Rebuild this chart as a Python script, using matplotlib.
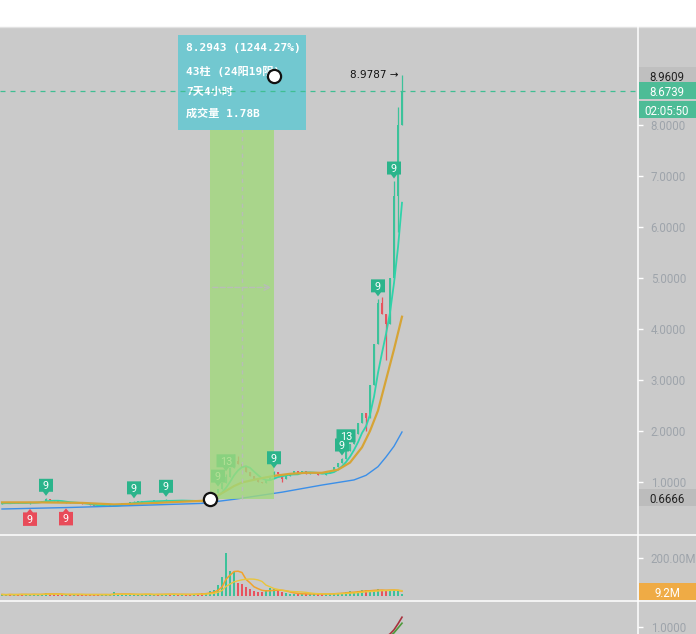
import numpy as np
import pandas as pd
import matplotlib
matplotlib.use("Agg")
import matplotlib.pyplot as plt
import matplotlib.patches as mpatches
import matplotlib.transforms as mtransforms
from matplotlib.lines import Line2D
from matplotlib.ticker import FuncFormatter

plt.rcParams['font.family'] = ['Roboto', 'DejaVu Sans']

# ---- data ----
close = [0.58, 0.59, 0.58, 0.60, 0.59, 0.58, 0.59, 0.60, 0.60, 0.61,
         0.63, 0.66, 0.64, 0.62, 0.61, 0.60, 0.60, 0.59, 0.59, 0.58,
         0.57, 0.56, 0.54, 0.53, 0.52, 0.52, 0.53, 0.53, 0.54, 0.56,
         0.58, 0.59, 0.60, 0.61, 0.61, 0.62, 0.62, 0.63, 0.63, 0.62,
         0.63, 0.64, 0.63, 0.64, 0.63, 0.64, 0.63, 0.62, 0.63, 0.62,
         0.61, 0.64, 0.70, 0.78, 0.86, 0.98, 1.10, 1.28, 1.42, 1.35,
         1.30, 1.20, 1.12, 1.05, 1.00, 0.98, 1.04, 1.10, 1.20, 1.16,
         1.06, 1.12, 1.18, 1.22, 1.17, 1.21, 1.15, 1.19, 1.20, 1.14,
         1.13, 1.18, 1.22, 1.30, 1.38, 1.45, 1.60, 1.75, 1.95, 2.15,
         2.35, 2.25, 2.90, 3.70, 4.50, 4.30, 4.10, 5.00, 6.60, 8.00,
         8.6739]
first_open = 0.57
wick_high = {11: 0.68, 33: 0.63, 41: 0.66, 54: 0.86, 56: 1.16, 58: 1.55, 59: 1.50,
             68: 1.22, 85: 1.47, 86: 1.65, 94: 4.59, 95: 4.62, 98: 6.90, 99: 8.35,
             100: 8.9787}
wick_low = {7: 0.57, 16: 0.58, 70: 1.00, 91: 2.00, 96: 3.40, 99: 5.90}

volume = [8, 6, 10, 6, 8, 12, 6, 8, 10, 6,
          12, 18, 10, 8, 6, 8, 6, 10, 8, 6,
          8, 6, 10, 8, 6, 8, 6, 8, 20, 10,
          8, 6, 8, 12, 6, 8, 10, 8, 6, 10,
          8, 12, 10, 8, 6, 8, 10, 8, 10, 12,
          14, 18, 25, 32, 60, 100, 225, 130, 128, 70,
          65, 45, 38, 25, 20, 22, 30, 42, 35, 25,
          20, 15, 12, 10, 11, 10, 12, 10, 11, 10,
          10, 12, 12, 14, 18, 16, 22, 25, 20, 28,
          30, 34, 26, 30, 35, 32, 28, 30, 34, 26,
          9.2]

ma_orange_idx = [0, 10, 20, 28, 36, 44, 50, 52, 55, 58, 60, 64, 68, 72, 76, 80, 84, 87, 90, 92, 94, 96, 98, 100]
ma_orange = [0.60, 0.60, 0.59, 0.56, 0.58, 0.61, 0.63, 0.66, 0.78, 0.92, 0.99, 1.06, 1.12, 1.16, 1.18,
             1.18, 1.24, 1.38, 1.68, 2.00, 2.40, 3.00, 3.60, 4.24]
ma_blue_idx = [0, 17, 30, 50, 58, 70, 80, 88, 91, 94, 96, 98, 100]
ma_blue = [0.47, 0.50, 0.53, 0.58, 0.66, 0.80, 0.94, 1.04, 1.13, 1.30, 1.49, 1.70, 1.98]

ind_idx = [95, 96, 97, 98, 99, 100]
ind_red = [0.80, 0.84, 0.88, 0.95, 1.05, 1.16]
ind_green = [0.78, 0.80, 0.84, 0.90, 0.98, 1.06]

signals = [(7, '9', 'down'), (11, '9', 'up'), (16, '9', 'down'), (33, '9', 'up'), (41, '9', 'up'),
           (54, '9', 'up'), (56, '13', 'up'), (68, '9', 'up'), (85, '9', 'up'), (86, '13', 'up'),
           (94, '9', 'up'), (98, '9', 'up')]

price_ticks = [1, 2, 3, 4, 5, 6, 7, 8]
last_price = 8.6739
high_mark = 8.9787
m_start = (52, 0.6666)
m_end = (68, 8.9609)
tooltip_lines = ["8.2943 (1244.27%)", "43柱 (24阳19阴)", "7天4小时", "成交量 1.78B"]
countdown = "02:05:50"
vol_last = 9.2

UP = '#3cc29a'
DN = '#e8535e'

close = np.array(close)
n = len(close)
idx = np.arange(n)
open_ = np.r_[first_open, close[:-1]]
high = np.maximum(open_, close)
low = np.minimum(open_, close)
for k, v in wick_high.items():
    high[k] = v
for k, v in wick_low.items():
    low[k] = v
cols = [UP if c >= o else DN for o, c in zip(open_, close)]

W, H = 696, 634
fig = plt.figure(figsize=(W / 100, H / 100), dpi=100, facecolor='#cacaca')


def ax_rect(top, bottom):
    return [0, 1 - bottom / H, 638 / W, (bottom - top) / H]


ax = fig.add_axes(ax_rect(27, 534))
axv = fig.add_axes(ax_rect(535, 600))
axi = fig.add_axes(ax_rect(601, 634))
for a in (ax, axv, axi):
    a.set_facecolor('none')
    for s in a.spines.values():
        s.set_visible(False)
    a.set_xlim(-0.5, 159)
    a.set_xticks([])
    a.yaxis.tick_right()
    a.tick_params(axis='y', length=3.6, width=1, color='white', labelcolor='#9ea4ab',
                  labelsize=8.3, pad=5.5)

ax.set_ylim(-0.02, 9.92)
ax.set_yticks(price_ticks)
ax.yaxis.set_major_formatter(FuncFormatter(lambda v, p: f"{v:.4f}"))
axv.set_ylim(-21, 321)
axv.set_yticks([200])
axv.yaxis.set_major_formatter(FuncFormatter(lambda v, p: f"{v:.2f}M"))
axi.set_ylim(0.88, 1.43)
axi.set_yticks([1.0])
axi.yaxis.set_major_formatter(FuncFormatter(lambda v, p: f"{v:.4f}"))

# candles
ax.vlines(idx, low, high, colors=cols, lw=0.9, zorder=2)
ax.bar(idx, np.maximum(np.abs(close - open_), 0.015), bottom=np.minimum(open_, close),
       width=0.6, color=cols, zorder=2)

# moving averages
ma_fast = pd.Series(close).rolling(5, min_periods=1).mean()
ax.plot(idx, ma_fast, color='#2fd3aa', lw=1.3, zorder=3)
ax.plot(ma_orange_idx, ma_orange, color='#d6a436', lw=1.6, zorder=3)
ax.plot(ma_blue_idx, ma_blue, color='#3b8fe8', lw=1.0, zorder=3)

# measurement box
ax.add_patch(mpatches.Rectangle((m_start[0], m_start[1]), m_end[0] - m_start[0], m_end[1] - m_start[1],
                                fc='#a1d97c', alpha=0.8, ec='none', zorder=4))
mid_x = (m_start[0] + m_end[0]) / 2
mid_y = (m_start[1] + m_end[1]) / 2
ax.plot([mid_x, mid_x], [m_start[1], m_end[1]], color='#b8bdb6', lw=1, ls=(0, (3, 3)), zorder=4.5)
ax.annotate('', xy=(m_end[0], mid_y), xytext=(m_start[0], mid_y),
            arrowprops=dict(arrowstyle='->', color='#b8bdb6', lw=1, ls='--'), zorder=4.5)


def signal(i, label, side):
    z = 3.5 if m_start[0] < i < m_end[0] else 5
    w = 14 if len(label) == 1 else 19
    if side == 'up':
        y0, s, fc = high[i], 1, '#2bb48b'
        pts = [(0, 2.5), (-3, 6.5), (-w / 2, 6.5), (-w / 2, 19.5), (w / 2, 19.5), (w / 2, 6.5), (3, 6.5)]
        c = 13
    else:
        y0, s, fc = low[i], -1, '#e84b59'
        pts = [(0, 5), (-3, 8.5), (-w / 2, 8.5), (-w / 2, 22), (w / 2, 22), (w / 2, 8.5), (3, 8.5)]
        c = 15.25
    pts = [(x, s * y) for x, y in pts]
    tr = mtransforms.Affine2D() + mtransforms.ScaledTranslation(i, y0, ax.transData)
    ax.add_patch(mpatches.Polygon(pts, closed=True, transform=tr, fc=fc, ec='none', zorder=z))
    ax.annotate(label, (i, y0), xytext=(0, s * c - 3.8), textcoords='offset pixels',
                ha='center', va='baseline', color='white', fontsize=7.8, zorder=z + 0.1)


for i, lab, side in signals:
    signal(i, lab, side)

# tooltip
ax.add_patch(mpatches.Rectangle((178 / 638, (534 - 130) / 507), 128 / 638, 95 / 507,
                                transform=ax.transAxes, fc='#72c8d0', ec='none', zorder=6))
for txt, py in zip(tooltip_lines, [48, 71, 92, 113]):
    ax.text(186 / 638, (534 - py) / 507, txt, transform=ax.transAxes, ha='left', va='center',
            color='white', fontsize=8.0, fontweight='bold',
            family=['DejaVu Sans Mono', 'Noto Sans CJK SC'], zorder=6.5)

ax.axhline(last_price, color='#3fbf93', lw=0.9, ls=(0, (4, 4)), zorder=7)
ax.plot([m_start[0], m_end[0]], [m_start[1], m_end[1]], 'o', ms=9.5, mfc='white', mec='#111111',
        mew=1.6, ls='none', zorder=8)
ax.annotate(f"{high_mark:.4f} →", (n - 1, high_mark), xytext=(-4, 0), textcoords='offset pixels',
            ha='right', va='center', fontsize=7.5, color='#111111', family='DejaVu Sans', zorder=8)

# volume
axv.bar(idx, volume, width=0.6, color=cols, zorder=2)
vs = pd.Series(volume)
axv.plot(idx, vs.rolling(5, min_periods=1).mean(), color='#f2a22a', lw=1.1, zorder=3)
axv.plot(idx, vs.rolling(10, min_periods=1).mean(), color='#e9c53c', lw=1.0, zorder=3)

# indicator
axi.plot(ind_idx, ind_red, color='#a8323e', lw=1.2)
axi.plot(ind_idx, ind_green, color='#4e9a3c', lw=1.2)


# frame lines
fig.add_artist(mpatches.Rectangle((0, 1 - 26.5 / H), 1, 26.5 / H, transform=fig.transFigure,
                                  fc='white', ec='none', zorder=1))
fig.add_artist(Line2D([0, 1], [1 - 26.5 / H] * 2, transform=fig.transFigure, color='#e2e2e2', lw=1, zorder=2))
fig.add_artist(Line2D([638 / W] * 2, [0, 1 - 27 / H], transform=fig.transFigure, color='white', lw=1.1, zorder=2))
for py in (534.5, 600.5):
    fig.add_artist(Line2D([0, 1], [1 - py / H] * 2, transform=fig.transFigure, color='white', lw=1.1, zorder=2))


def tag(a, val, text, fc, tc, dy=0):
    y = a.transData.transform((0, val))[1] + dy
    fy = y / H
    h = 17 / H
    fig.add_artist(mpatches.Rectangle((638.5 / W, fy - h / 2), 58 / W, h, transform=fig.transFigure,
                                      fc=fc, ec='none', zorder=5))
    fig.text(667 / W, fy, text, ha='center', va='center_baseline', color=tc, fontsize=8.3, zorder=6)


tag(ax, m_end[1], f"{m_end[1]:.4f}", '#bfbfbf', '#222222')
tag(ax, last_price, f"{last_price:.4f}", '#4dbc96', 'white')
tag(ax, last_price, countdown, '#4dbc96', 'white', dy=-19)
tag(ax, m_start[1], f"{m_start[1]:.4f}", '#bcbcbc', '#222222', dy=1)
tag(axv, vol_last, f"{vol_last}M", '#efab45', 'white', dy=2.5)

fig.savefig("out.png", dpi=100, facecolor=fig.get_facecolor())
